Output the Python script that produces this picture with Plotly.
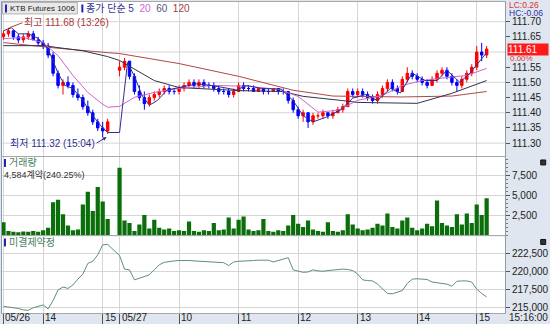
import plotly.graph_objects as go

# ---------------- data ----------------
DAY1 = "05/26"
DAY2 = "05/27"
T1 = ("13:20 13:25 13:30 13:35 13:40 13:45 13:50 13:55 14:00 14:05 14:10 14:15 "
      "14:20 14:25 14:30 14:35 14:40 14:45 14:50 14:55 15:00 15:05").split()
T2 = ("09:00 09:05 09:10 09:15 09:20 09:25 09:30 09:35 09:40 09:45 09:50 09:55 "
      "10:00 10:05 10:10 10:15 10:20 10:25 10:30 10:35 10:40 10:45 10:50 10:55 "
      "11:00 11:05 11:10 11:15 11:20 11:25 11:30 11:35 11:40 11:45 11:50 11:55 "
      "12:00 12:05 12:10 12:15 12:20 12:25 12:30 12:35 12:40 12:45 12:50 12:55 "
      "13:00 13:05 13:10 13:15 13:20 13:25 13:30 13:35 13:40 13:45 13:50 13:55 "
      "14:00 14:05 14:10 14:15 14:20 14:25 14:30 14:35 14:40 14:45 14:50 14:55 "
      "15:00 15:05 15:10").split()

O1 = [111.65, 111.66, 111.67, 111.65, 111.64, 111.65, 111.66, 111.64, 111.63, 111.62, 111.59,
      111.53, 111.49, 111.50, 111.49, 111.46, 111.45, 111.42, 111.40, 111.37, 111.35, 111.34]
H1 = [111.67, 111.68, 111.67, 111.66, 111.66, 111.67, 111.67, 111.65, 111.64, 111.63, 111.60,
      111.54, 111.51, 111.52, 111.50, 111.48, 111.46, 111.44, 111.41, 111.38, 111.37, 111.38]
L1 = [111.64, 111.65, 111.64, 111.63, 111.63, 111.64, 111.64, 111.62, 111.61, 111.58, 111.52,
      111.48, 111.46, 111.48, 111.45, 111.44, 111.41, 111.39, 111.36, 111.34, 111.32, 111.33]
C1 = [111.66, 111.67, 111.65, 111.64, 111.65, 111.66, 111.64, 111.63, 111.62, 111.59, 111.53,
      111.49, 111.50, 111.49, 111.46, 111.45, 111.42, 111.40, 111.37, 111.35, 111.34, 111.37]

O2 = [111.54, 111.55, 111.57, 111.52, 111.47, 111.45, 111.43, 111.45, 111.46, 111.47, 111.48, 111.47,
      111.47, 111.48, 111.49, 111.50, 111.49, 111.50, 111.49, 111.49, 111.48, 111.47, 111.47, 111.46,
      111.47, 111.49, 111.48, 111.48, 111.47, 111.48, 111.47, 111.47, 111.48, 111.47, 111.47, 111.44,
      111.41, 111.39, 111.40, 111.37, 111.39, 111.39, 111.40, 111.39, 111.40, 111.41, 111.42, 111.47,
      111.46, 111.47, 111.46, 111.45, 111.44, 111.46, 111.48, 111.50, 111.48, 111.47, 111.51, 111.53,
      111.52, 111.51, 111.50, 111.49, 111.51, 111.53, 111.54, 111.52, 111.50, 111.49, 111.51, 111.53,
      111.55, 111.60, 111.59]
H2 = [111.57, 111.58, 111.57, 111.53, 111.49, 111.47, 111.46, 111.47, 111.48, 111.49, 111.49, 111.48,
      111.49, 111.50, 111.51, 111.51, 111.51, 111.51, 111.50, 111.50, 111.49, 111.48, 111.48, 111.48,
      111.50, 111.50, 111.49, 111.49, 111.48, 111.48, 111.48, 111.48, 111.48, 111.48, 111.47, 111.45,
      111.42, 111.41, 111.40, 111.40, 111.40, 111.41, 111.40, 111.41, 111.42, 111.43, 111.48, 111.48,
      111.48, 111.48, 111.47, 111.46, 111.47, 111.49, 111.51, 111.51, 111.49, 111.52, 111.55, 111.54,
      111.53, 111.52, 111.51, 111.52, 111.54, 111.55, 111.55, 111.53, 111.51, 111.52, 111.54, 111.56,
      111.62, 111.63, 111.62]
L2 = [111.52, 111.54, 111.51, 111.46, 111.44, 111.41, 111.42, 111.44, 111.45, 111.46, 111.46, 111.46,
      111.46, 111.47, 111.48, 111.48, 111.48, 111.48, 111.48, 111.47, 111.46, 111.46, 111.45, 111.45,
      111.47, 111.47, 111.47, 111.47, 111.47, 111.46, 111.46, 111.47, 111.46, 111.46, 111.43, 111.40,
      111.38, 111.37, 111.35, 111.36, 111.38, 111.38, 111.38, 111.38, 111.40, 111.40, 111.42, 111.45,
      111.45, 111.45, 111.44, 111.43, 111.43, 111.45, 111.47, 111.47, 111.46, 111.47, 111.50, 111.51,
      111.50, 111.49, 111.48, 111.49, 111.50, 111.52, 111.51, 111.49, 111.47, 111.48, 111.50, 111.52,
      111.54, 111.57, 111.58]
C2 = [111.55, 111.57, 111.52, 111.47, 111.45, 111.43, 111.45, 111.46, 111.47, 111.48, 111.47, 111.47,
      111.48, 111.49, 111.50, 111.49, 111.50, 111.49, 111.49, 111.48, 111.47, 111.47, 111.46, 111.47,
      111.49, 111.48, 111.48, 111.47, 111.48, 111.47, 111.47, 111.48, 111.47, 111.47, 111.44, 111.41,
      111.39, 111.40, 111.37, 111.39, 111.39, 111.40, 111.39, 111.40, 111.41, 111.42, 111.47, 111.46,
      111.47, 111.46, 111.45, 111.44, 111.46, 111.48, 111.50, 111.48, 111.47, 111.51, 111.53, 111.52,
      111.51, 111.50, 111.49, 111.51, 111.53, 111.54, 111.52, 111.50, 111.49, 111.51, 111.53, 111.55,
      111.60, 111.59, 111.61]

V1 = [1600, 500, 400, 350, 450, 400, 500, 400, 600, 900, 4100,
      4400, 2600, 1200, 600, 700, 3800, 5400, 3000, 6000, 4200, 2000]
V2 = [8400, 1800, 1500, 500, 1300, 2500, 800, 1900, 900, 700, 800, 500,
      600, 500, 1700, 500, 400, 600, 500, 1500, 600, 700, 2200, 800,
      1900, 2300, 700, 500, 600, 2000, 500, 400, 600, 500, 1200, 2500,
      1400, 1000, 1800, 700, 500, 400, 1600, 500, 400, 600, 2600, 1300,
      800, 600, 700, 900, 1400, 1200, 2700, 1000, 800, 1800, 2200, 900,
      600, 800, 1400, 1100, 4300, 1500, 1200, 1000, 2600, 1300, 2700, 1500,
      3800, 2500, 4584]

OI1 = [215100, 215000, 214950, 214800, 214600, 214550, 214900, 215150, 215300, 214750, 215900,
       217400, 217800, 217600, 218100, 218900, 219600, 221100, 221400, 222300, 223700, 223750]
OI2 = [222200, 220300, 220200, 218800, 219000, 219300, 219500, 220200, 220900, 221250, 221400, 221450,
       221500, 221550, 221500, 221450, 221400, 221350, 221350, 221300, 221300, 221200, 220800, 221300,
       221400, 221400, 221450, 221500, 221550, 221600, 221550, 221300, 221500, 221600, 221900, 220200,
       220000, 219850, 219900, 220200, 220050, 220000, 220100, 220200, 220300, 220300, 220250, 220100,
       219600, 218800, 218700, 218650, 218200, 217500, 216900, 216850, 217100, 217300, 218300, 218900,
       218950, 218900, 218850, 218500, 218400, 218300, 218200, 217900, 218600, 218650, 218650, 218500,
       217500, 216900, 216400]

MA5_T = ["05/26 13:20", "05/26 13:28", "05/26 13:35", "05/26 13:45", "05/26 13:55", "05/26 14:05",
         "05/26 14:15", "05/26 14:22", "05/26 14:30", "05/26 14:40", "05/26 14:50", "05/26 15:00",
         "05/26 15:05", "05/27 09:00", "05/27 09:08", "05/27 09:15", "05/27 09:23", "05/27 09:30",
         "05/27 09:38", "05/27 09:48", "05/27 10:03", "05/27 10:18", "05/27 10:33", "05/27 10:48",
         "05/27 10:58", "05/27 11:08", "05/27 11:23", "05/27 11:43", "05/27 11:55", "05/27 12:05",
         "05/27 12:15", "05/27 12:28", "05/27 12:43", "05/27 12:55", "05/27 13:08", "05/27 13:20",
         "05/27 13:33", "05/27 13:43", "05/27 13:55", "05/27 14:08", "05/27 14:20", "05/27 14:30",
         "05/27 14:43", "05/27 14:53", "05/27 15:03", "05/27 15:10"]
MA5_V = [111.67, 111.68, 111.66, 111.66, 111.645, 111.61,
         111.53, 111.49, 111.48, 111.44, 111.39, 111.35,
         111.335, 111.335, 111.565, 111.52, 111.455, 111.425,
         111.44, 111.475, 111.485, 111.495, 111.49, 111.48,
         111.475, 111.49, 111.48, 111.478, 111.44, 111.39,
         111.37, 111.385, 111.41, 111.448, 111.46, 111.44,
         111.48, 111.465, 111.53, 111.506, 111.506, 111.54,
         111.50, 111.53, 111.57, 111.598]

MA20_T = ["05/26 13:20", "05/26 13:40", "05/26 14:00", "05/26 14:15", "05/26 14:30", "05/26 14:45",
          "05/26 15:00", "05/26 15:05", "05/27 09:00", "05/27 09:15", "05/27 09:35", "05/27 10:00",
          "05/27 10:35", "05/27 11:10", "05/27 11:40", "05/27 12:00", "05/27 12:20", "05/27 12:40",
          "05/27 13:00", "05/27 13:25", "05/27 13:45", "05/27 14:05", "05/27 14:30", "05/27 14:50",
          "05/27 15:10"]
MA20_V = [111.644, 111.648, 111.631, 111.588, 111.523, 111.467,
          111.428, 111.418, 111.421, 111.451, 111.467, 111.480,
          111.490, 111.487, 111.477, 111.454, 111.402, 111.408,
          111.441, 111.457, 111.490, 111.506, 111.516, 111.523,
          111.546]

MA60_T = ["05/26 13:20", "05/26 14:00", "05/26 14:40", "05/26 15:05", "05/27 09:00", "05/27 09:35",
          "05/27 10:00", "05/27 11:00", "05/27 11:45", "05/27 12:05", "05/27 12:45", "05/27 13:00",
          "05/27 14:00", "05/27 14:35", "05/27 15:10"]
MA60_V = [111.621, 111.621, 111.604, 111.585, 111.572, 111.506,
          111.483, 111.473, 111.470, 111.454, 111.440, 111.434,
          111.431, 111.464, 111.506]

MA120_T = ["05/26 13:20", "05/26 14:10", "05/26 15:05", "05/27 09:00", "05/27 10:00", "05/27 11:00",
           "05/27 11:55", "05/27 12:35", "05/27 13:45", "05/27 14:35", "05/27 15:10"]
MA120_V = [111.631, 111.614, 111.598, 111.595, 111.562, 111.520,
           111.474, 111.455, 111.452, 111.455, 111.470]

PRICE_TICKS = [111.30, 111.35, 111.40, 111.45, 111.50, 111.55, 111.65, 111.70]
PRICE_GRID = [111.30, 111.40, 111.50, 111.60, 111.70]
VOL_TICKS = [2500, 5000, 7500]
OI_TICKS = [215000, 217500, 220000, 222500]
X_TICKS = [("05/26 13:20", "05/26"), ("05/26 14:00", "14"), ("05/26 15:00", "15"),
           ("05/27 09:00", "05/27"), ("05/27 10:00", "10"), ("05/27 11:00", "11"),
           ("05/27 12:00", "12"), ("05/27 13:00", "13"), ("05/27 14:00", "14"),
           ("05/27 15:00", "15")]

HIGH_T, HIGH_V = "05/26 13:26", 111.68
LOW_T, LOW_V = "05/26 15:04", 111.32
LAST_PRICE = 111.61
VOL_PCT = "240.25%"

# ---------------- helpers ----------------
SESSION = {DAY1: (13 * 60 + 20, 0), DAY2: (9 * 60, 117)}


def sx(day, hm):
    h, m = hm.split(":")
    base, off = SESSION[day]
    return off + int(h) * 60 + int(m) - base


def sx_full(s):
    d, t = s.split()
    return sx(d, t)


X = [sx(DAY1, t) for t in T1] + [sx(DAY2, t) for t in T2]
O, H, L, C = O1 + O2, H1 + H2, L1 + L2, C1 + C2
V, OI = V1 + V2, OI1 + OI2

# layout geometry (pixels)
W, HT = 550, 324
ML, MR, MT, MB = 1, 42, 1, 10
PW, PH = W - ML - MR, HT - MT - MB


def pxx(px):
    return (px - ML) / PW


def pxy(py):
    return (HT - MB - py) / PH


FONT = "Liberation Sans, Noto Sans CJK KR, sans-serif"
KFONT = "Liberation Sans, Noto Sans CJK KR, sans-serif"

fig = go.Figure()
fig.add_trace(go.Candlestick(
    x=X, open=O, high=H, low=L, close=C, xaxis="x", yaxis="y",
    increasing=dict(line=dict(color="#ff0000", width=1), fillcolor="#ff0000"),
    decreasing=dict(line=dict(color="#0000ff", width=1), fillcolor="#0000ff"),
    whiskerwidth=0, showlegend=False, hoverinfo="skip"))

for tt, vv, col in [(MA120_T, MA120_V, "#b04848"), (MA60_T, MA60_V, "#33334a"),
                    (MA20_T, MA20_V, "#cc66cc"), (MA5_T, MA5_V, "#2e2e96")]:
    fig.add_trace(go.Scatter(x=[sx_full(s) for s in tt], y=vv, mode="lines",
                             line=dict(color=col, width=1), xaxis="x", yaxis="y",
                             showlegend=False, hoverinfo="skip"))

fig.add_trace(go.Bar(x=X, y=V, marker=dict(color="#0a6e0a", line=dict(width=0)),
                     xaxis="x2", yaxis="y2", showlegend=False, hoverinfo="skip"))
fig.add_trace(go.Scatter(x=X, y=OI, mode="lines", line=dict(color="#5f8f78", width=1),
                         xaxis="x3", yaxis="y3", showlegend=False, hoverinfo="skip"))

xt = [sx_full(s) for s, _ in X_TICKS]
xcommon = dict(range=[-1.5, 505.5], tickvals=xt, showticklabels=False, showgrid=True,
               gridcolor="#d6d6d6", gridwidth=1, zeroline=False, showline=True, mirror=True,
               linecolor="#a8a8a8", fixedrange=True)
ycommon = dict(side="right", showline=True, mirror=True, linecolor="#8c9ab0", ticks="outside",
               ticklen=4, tickcolor="#555", zeroline=False,
               tickfont=dict(family=FONT, size=10, color="#222"))

price_dom = [pxy(156), pxy(1)]
vol_dom = [pxy(236), pxy(157)]
oi_dom = [pxy(314), pxy(237)]

fig.update_layout(
    width=W, height=HT, margin=dict(l=ML, r=MR, t=MT, b=MB),
    paper_bgcolor="#dfe6f0", plot_bgcolor="white", showlegend=False, bargap=0.15,
    xaxis=dict(**xcommon, anchor="y", domain=[0, 1], rangeslider=dict(visible=False)),
    xaxis2=dict(**xcommon, anchor="y2", domain=[0, 1], matches="x"),
    xaxis3=dict(**xcommon, anchor="y3", domain=[0, 1], matches="x"),
    yaxis=dict(**ycommon, domain=price_dom, anchor="x", range=[111.2575, 111.7648],
               tickvals=PRICE_TICKS, tickformat=".2f", showgrid=False),
    yaxis2=dict(**ycommon, domain=vol_dom, anchor="x2", range=[-60, 9750],
                tickvals=VOL_TICKS, tickformat=",", showgrid=True, gridcolor="#d6d6d6",
                minor=dict(dtick=500, ticks="outside", ticklen=2, tickcolor="#777", showgrid=False)),
    yaxis3=dict(**ycommon, domain=oi_dom, anchor="x3", range=[214167, 224861],
                tickvals=OI_TICKS, tickformat=",", showgrid=True, gridcolor="#d6d6d6"),
)
fig.layout.xaxis3.ticks = "outside"
fig.layout.xaxis3.ticklen = 10
fig.layout.xaxis3.tickcolor = "#555"

for g in PRICE_GRID:
    fig.add_shape(type="line", xref="x domain", yref="y", x0=0, x1=1, y0=g, y1=g,
                  line=dict(color="#d6d6d6", width=1), layer="below")


def prect(x0, y0, x1, y1, fill, line=None):
    fig.add_shape(type="rect", xref="paper", yref="paper", x0=pxx(x0), x1=pxx(x1),
                  y0=pxy(y1), y1=pxy(y0), fillcolor=fill,
                  line=dict(color=line or fill, width=1 if line else 0))


# title box and label markers
prect(1.5, 1.5, 77, 13, "#e8e8e8", "#b4b4b4")
for (bx, by) in [(4, 3.5), (81, 3.5), (3, 159), (3, 239)]:
    prect(bx, by, bx + 2, by + 8, "#2020b0")
# small panel icons
for py in (160, 240):
    prect(544, py, 549, py + 5, "#333", "#111")

ann = []
ann.append(dict(xref="paper", yref="paper", x=pxx(8), y=pxy(7.5), xanchor="left",
                yanchor="middle", text="KTB Futures 1006", showarrow=False, borderpad=0,
                font=dict(family=FONT, size=8, color="#222")))
ann.append(dict(xref="paper", yref="paper", x=pxx(85), y=pxy(7.5), xanchor="left",
                yanchor="middle",
                text=("<span style='color:#333399'>종가 단순 5</span>  "
                      "<span style='color:#cc66cc'>20</span>  "
                      "<span style='color:#55557a'>60</span>  "
                      "<span style='color:#a04040'>120</span>"),
                showarrow=False, borderpad=0, font=dict(family=KFONT, size=10)))
# high / low markers
ann.append(dict(xref="x", yref="y", x=sx_full(HIGH_T), y=HIGH_V, ax=13, ay=-5,
                xanchor="left", text=f"최고 {HIGH_V:.2f} ({HIGH_T.split()[1]})",
                showarrow=True, arrowhead=0, arrowwidth=1, arrowcolor="#b04040",
                font=dict(family=KFONT, size=10, color="#a83a3a")))
ann.append(dict(xref="x", yref="y", x=sx_full(LOW_T), y=LOW_V, ax=-10, ay=6,
                xanchor="right", text=f"최저 {LOW_V:.2f} ({LOW_T.split()[1]})",
                showarrow=True, arrowhead=2, arrowsize=0.8, arrowwidth=1, arrowcolor="#303090",
                font=dict(family=KFONT, size=10, color="#303090")))
# right-side info
ann.append(dict(xref="paper", yref="paper", x=pxx(511), y=pxy(4), xanchor="left",
                yanchor="middle", text="LC:0.26", showarrow=False, borderpad=0,
                font=dict(family=FONT, size=8.5, color="#e03030")))
ann.append(dict(xref="paper", yref="paper", x=pxx(511), y=pxy(12), xanchor="left",
                yanchor="middle", text="HC:-0.06", showarrow=False, borderpad=0,
                font=dict(family=FONT, size=8.5, color="#3030a0")))
ann.append(dict(xref="paper", yref="y", x=pxx(510), y=LAST_PRICE, xanchor="left",
                yanchor="middle", text=f"{LAST_PRICE:.2f}", showarrow=False, borderpad=0,
                bgcolor="#ff1a1a", width=40, align="left",
                font=dict(family=FONT, size=10, color="white")))
ann.append(dict(xref="paper", yref="y", x=pxx(512), y=LAST_PRICE, yshift=-9, xanchor="left",
                yanchor="middle", text="0.00%", showarrow=False, borderpad=0,
                font=dict(family=FONT, size=8, color="#e03030")))
# panel labels
ann.append(dict(xref="paper", yref="paper", x=pxx(7), y=pxy(163), xanchor="left",
                yanchor="middle", showarrow=False, borderpad=0, text="거래량",
                font=dict(family=KFONT, size=10, color="#4a8060")))
ann.append(dict(xref="paper", yref="paper", x=pxx(2), y=pxy(175), xanchor="left",
                yanchor="middle", showarrow=False, borderpad=0,
                text=f"{V[-1]:,}계약({VOL_PCT})",
                font=dict(family=KFONT, size=9, color="#333")))
ann.append(dict(xref="paper", yref="paper", x=pxx(7), y=pxy(243), xanchor="left",
                yanchor="middle", showarrow=False, borderpad=0, text="미결제약정",
                font=dict(family=KFONT, size=10, color="#4a8060")))
# x labels
for (s, lab), xv in zip(X_TICKS, xt):
    ann.append(dict(xref="x3", yref="paper", x=xv, y=pxy(319), xanchor="left", xshift=1,
                    yanchor="middle", text=lab, showarrow=False, borderpad=0,
                    font=dict(family=FONT, size=10, color="#222")))
ann.append(dict(xref="paper", yref="paper", x=pxx(511), y=pxy(319), xanchor="left",
                yanchor="middle", text="15:16:00", showarrow=False, borderpad=0,
                font=dict(family=FONT, size=10, color="#222")))
fig.update_layout(annotations=ann)

fig.write_html("out.html")
